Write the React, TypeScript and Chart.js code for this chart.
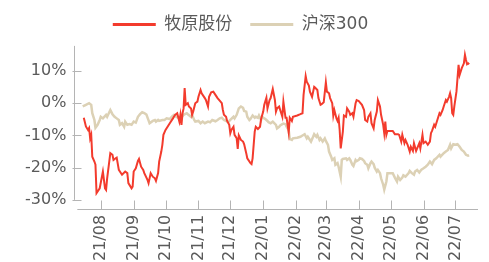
import React, { useEffect, useRef } from "react";
import { Chart, registerables } from "chart.js";

Chart.register(...registerables);

// x values: calendar days counted from 2021-08-01
const BASE_DATE = Date.UTC(2021, 7, 1);
const monthLabels = ["21/08", "21/09", "21/10", "21/11", "21/12", "22/01", "22/02", "22/03", "22/04", "22/05", "22/06", "22/07"];
const monthTickDays = monthLabels.map((_, i) => (Date.UTC(2021, 7 + i, 1) - BASE_DATE) / 86400000);
const yTickValues = [-30, -20, -10, 0, 10];

const seriesNames = ["牧原股份", "沪深300"];

const muyuanDays = [-16, -14, -12, -11, -10, -9, -8, -6, -5, -4, -1, 2, 4, 5, 6, 9, 11, 12, 14, 15, 17, 18, 20, 23, 25, 26, 29, 30, 31, 33, 35, 36, 38, 40, 41, 44, 45, 47, 49, 51, 52, 54, 55, 57, 58, 59, 61, 65, 68, 70, 72, 74, 75, 76, 77, 78, 79, 80, 82, 83, 85, 86, 87, 89, 91, 92, 94, 95, 98, 99, 101, 102, 104, 106, 108, 110, 112, 114, 115, 116, 118, 119, 121, 122, 123, 125, 126, 128, 129, 130, 132, 134, 135, 137, 138, 141, 142, 143, 145, 146, 148, 150, 151, 153, 154, 156, 157, 159, 160, 162, 164, 165, 166, 168, 169, 171, 172, 174, 175, 177, 178, 180, 181, 185, 188, 190, 191, 193, 194, 196, 197, 199, 201, 202, 204, 205, 207, 208, 210, 212, 213, 215, 216, 218, 219, 220, 222, 223, 224, 225, 226, 228, 229, 231, 232, 234, 235, 237, 238, 240, 241, 243, 244, 246, 248, 249, 251, 252, 254, 255, 257, 258, 260, 261, 263, 264, 266, 267, 268, 269, 270, 272, 275, 277, 280, 281, 283, 284, 286, 287, 289, 291, 292, 294, 295, 297, 298, 300, 301, 303, 304, 306, 308, 310, 311, 312, 314, 315, 317, 319, 320, 322, 323, 325, 326, 328, 329, 330, 331, 332, 333, 335, 336, 337, 338, 340, 342, 343, 344, 345, 346, 347];
const muyuanValues = [-4.5, -7.2, -8.3, -7.7, -10.9, -9.8, -16.6, -18.1, -19.1, -27.9, -26.4, -21.2, -26.4, -26.9, -23.3, -15.5, -16.0, -17.6, -17.1, -16.9, -20.7, -21.2, -22.2, -21.2, -21.7, -24.8, -26.4, -25.9, -21.2, -20.2, -17.9, -17.3, -19.7, -20.7, -21.7, -23.8, -24.8, -21.7, -22.8, -23.3, -24.1, -21.7, -18.1, -15.0, -12.9, -9.8, -8.3, -6.2, -4.7, -3.6, -3.1, -5.7, -3.6, -6.7, -3.1, -1.6, 4.7, -0.5, 0, -1.0, -1.6, -3.6, -2.6, 0, 0.5, 2.0, 4.1, 3.1, 1.6, 1.0, -1.0, 2.0, 3.4, 3.6, 2.6, 1.6, 0.8, 0, -2.1, -3.6, -4.2, -5.5, -6.7, -9.3, -8.3, -7.3, -9.8, -10.9, -14.2, -10.0, -11.4, -11.9, -12.7, -15.5, -17.1, -18.6, -18.9, -17.1, -8.8, -7.3, -8.0, -7.3, -4.9, -2.6, -0.5, 1.7, -1.6, 1.0, 1.6, 4.4, 1.0, -2.6, -1.6, -1.0, -2.1, -4.2, 0.5, -4.5, -4.5, -9.0, -4.5, -5.5, -4.2, -3.8, -3.4, -3.1, 2.6, 8.4, 6.7, 5.5, 3.6, 2.0, 5.1, 4.8, 4.1, 1.6, -0.5, -0.3, 0.3, 6.5, 3.6, 3.1, 1.6, 0, -3.8, -2.1, -4.7, -5.5, -4.5, -8.3, -14.0, -8.8, -3.8, -4.2, -1.6, -2.6, -3.6, -3.1, -4.2, 0, 1.0, 0.7, 0.3, -0.5, -2.1, -5.2, -5.7, -4.2, -3.1, -6.2, -7.8, -5.2, -2.6, 1.0, -1.0, -3.6, -6.7, -9.3, -5.7, -9.8, -8.6, -8.6, -8.6, -9.6, -9.6, -9.8, -11.9, -9.8, -12.4, -11.4, -12.9, -15.0, -13.5, -14.8, -12.4, -14.8, -14.0, -12.4, -14.0, -9.8, -12.4, -11.9, -12.9, -11.9, -9.3, -8.6, -6.7, -7.3, -5.2, -3.1, -3.6, -2.1, -1.0, 1.0, 0.5, 2.0, 3.1, 1.6, -3.1, -3.6, -1.0, 3.6, 7.8, 11.9, 8.8, 10.9, 12.4, 15.0, 13.4, 12.1, 12.4, 12.1];

const hs300Days = [-17, -14, -11, -9, -8, -6, -5, -3, -1, 0, 2, 5, 6, 9, 11, 13, 15, 17, 18, 20, 22, 23, 25, 27, 29, 31, 33, 35, 37, 39, 41, 43, 45, 46, 49, 51, 52, 54, 55, 58, 60, 62, 65, 67, 69, 71, 74, 76, 78, 81, 82, 85, 86, 88, 89, 92, 94, 96, 98, 101, 103, 105, 108, 110, 112, 114, 116, 118, 120, 122, 125, 126, 128, 130, 132, 134, 135, 137, 138, 140, 141, 143, 145, 146, 148, 149, 151, 152, 154, 155, 157, 158, 160, 162, 165, 166, 168, 169, 171, 172, 174, 175, 177, 178, 180, 181, 185, 188, 190, 192, 194, 195, 197, 198, 200, 201, 203, 204, 206, 207, 209, 211, 212, 214, 215, 217, 218, 220, 221, 223, 224, 226, 227, 228, 231, 232, 234, 235, 237, 238, 240, 241, 243, 244, 246, 248, 249, 251, 252, 254, 255, 257, 258, 260, 261, 263, 264, 266, 267, 269, 270, 272, 275, 277, 279, 280, 282, 284, 285, 287, 290, 291, 293, 295, 296, 298, 300, 302, 304, 306, 308, 310, 312, 314, 316, 319, 320, 323, 325, 327, 329, 330, 332, 334, 336, 338, 340, 342, 344, 346, 347];
const hs300Values = [-1.0, -0.5, 0, -0.5, -3.1, -5.2, -7.6, -6.7, -5.2, -4.2, -4.7, -3.6, -4.2, -2.1, -3.4, -4.2, -4.7, -5.2, -6.7, -6.2, -7.3, -5.7, -6.7, -6.5, -6.7, -5.7, -6.0, -4.2, -3.4, -2.8, -3.1, -3.5, -5.3, -6.2, -5.5, -5.2, -5.7, -5.2, -5.5, -5.2, -5.2, -4.7, -4.9, -4.2, -3.6, -4.2, -4.7, -4.5, -3.6, -3.1, -3.4, -4.2, -3.6, -5.2, -5.7, -5.5, -6.2, -5.7, -6.2, -5.7, -5.9, -5.2, -5.6, -5.2, -4.7, -4.5, -5.2, -5.5, -5.9, -5.2, -4.2, -4.7, -3.6, -1.6, -1.0, -1.4, -2.4, -2.6, -4.2, -5.2, -4.9, -3.8, -4.5, -4.2, -4.5, -3.8, -5.2, -4.2, -4.7, -4.9, -5.5, -5.9, -6.2, -5.7, -6.7, -7.8, -7.3, -6.9, -6.5, -6.3, -6.5, -7.3, -8.3, -11.1, -11.4, -10.9, -10.7, -10.4, -10.0, -9.6, -10.9, -10.4, -11.4, -11.9, -10.4, -9.6, -10.4, -9.8, -11.4, -10.9, -11.9, -10.9, -11.7, -12.9, -15.0, -16.6, -17.6, -17.1, -19.1, -18.6, -19.7, -22.8, -17.6, -17.3, -17.1, -17.6, -17.1, -17.6, -19.1, -19.5, -17.6, -18.0, -17.6, -17.1, -17.3, -17.9, -18.6, -19.1, -20.2, -18.6, -18.1, -18.9, -20.0, -21.2, -20.7, -21.7, -23.3, -25.3, -26.8, -24.3, -21.7, -21.7, -21.7, -23.1, -24.3, -22.8, -23.8, -23.1, -22.4, -22.8, -21.7, -21.0, -21.7, -22.2, -21.2, -20.7, -21.5, -20.6, -20.2, -19.7, -19.1, -18.1, -18.9, -17.6, -17.1, -16.0, -16.6, -15.5, -15.0, -14.5, -12.9, -14.0, -12.7, -12.9, -12.7, -13.5, -14.5, -15.0, -16.0, -16.3, -16.2];

const RED = "#f33b2d";
const BEIGE = "#dcd1b5";
const AXIS = "#b4b4b4";
const TEXT = "#5a5a5a";
const FONT = "'DejaVu Sans', 'Noto Sans CJK SC', sans-serif";

const axisPlugin = {
  id: "customAxes",
  afterLayout(chart: any) {
    const lg = chart.legend;
    if (lg) {
      lg.left -= 7;
      lg.right -= 7;
    }
  },
  afterDraw(chart: any) {
    const { ctx, chartArea, scales } = chart;
    const x = scales.x;
    const y = scales.y;
    ctx.save();
    ctx.strokeStyle = AXIS;
    ctx.lineWidth = 1;
    const left = Math.round(chartArea.left) + 0.5;
    const bottom = Math.round(chartArea.bottom) + 0.5;
    ctx.beginPath();
    ctx.moveTo(left, y.getPixelForValue(17.8));
    ctx.lineTo(left, y.getPixelForValue(-30));
    for (const v of yTickValues) {
      const py = Math.round(y.getPixelForValue(v)) + 0.5;
      ctx.moveTo(left - 2, py);
      ctx.lineTo(left + 7, py);
    }
    ctx.moveTo(chartArea.left + 3, bottom);
    ctx.lineTo(chartArea.right, bottom);
    for (const d of monthTickDays) {
      const px = Math.round(x.getPixelForValue(d)) + 0.5;
      ctx.moveTo(px, bottom - 9);
      ctx.lineTo(px, bottom);
    }
    ctx.stroke();
    ctx.restore();
  },
};

export default function App() {
  const ref = useRef<HTMLCanvasElement>(null);
  useEffect(() => {
    document.body.style.overflow = "hidden";
    const chart = new Chart(ref.current!, {
      type: "line",
      data: {
        datasets: [
          {
            label: seriesNames[0],
            data: muyuanDays.map((d, i) => ({ x: d, y: muyuanValues[i] })),
            borderColor: RED,
            backgroundColor: RED,
            borderWidth: 2,
            pointRadius: 0,
            tension: 0,
          },
          {
            label: seriesNames[1],
            data: hs300Days.map((d, i) => ({ x: d, y: hs300Values[i] })),
            borderColor: BEIGE,
            backgroundColor: BEIGE,
            borderWidth: 2.5,
            pointRadius: 0,
            tension: 0,
          },
        ],
      },
      options: {
        responsive: false,
        animation: false,
        layout: { padding: { left: 9, right: 3, top: -10, bottom: -5 } },
        plugins: {
          tooltip: { enabled: false },
          legend: {
            display: true,
            position: "top",
            labels: {
              font: { size: 17, family: FONT },
              color: TEXT,
              boxWidth: 43,
              boxHeight: 3,
              padding: 18,
              generateLabels: (c: any) =>
                c.data.datasets.map((ds: any, i: number) => ({
                  text: ds.label,
                  fillStyle: ds.borderColor,
                  strokeStyle: ds.borderColor,
                  lineWidth: 0,
                  hidden: false,
                  datasetIndex: i,
                  fontColor: TEXT,
                })),
            },
          },
        },
        scales: {
          x: {
            type: "linear",
            min: -24.9,
            max: 355.3,
            grid: { display: false, drawTicks: false },
            border: { display: false },
            afterBuildTicks: (s: any) => {
              s.ticks = monthTickDays.map((v) => ({ value: v }));
            },
            ticks: {
              autoSkip: false,
              maxRotation: 90,
              minRotation: 90,
              padding: 6,
              color: TEXT,
              font: { size: 16, family: FONT },
              callback: (v: any) => {
                const i = monthTickDays.indexOf(Number(v));
                return i >= 0 ? monthLabels[i] : "";
              },
            },
          },
          y: {
            type: "linear",
            min: -32.8,
            max: 18.7,
            grid: { display: false, drawTicks: false },
            border: { display: false },
            afterBuildTicks: (s: any) => {
              s.ticks = yTickValues.map((v) => ({ value: v }));
            },
            ticks: {
              padding: 8,
              color: TEXT,
              font: { size: 16, family: FONT },
              callback: (v: any) => `${v}%`,
            },
          },
        },
      },
      plugins: [axisPlugin],
    });
    return () => chart.destroy();
  }, []);
  return (
    <div style={{ width: 473, height: 254 }}>
      <canvas ref={ref} width={473} height={254} style={{ display: "block" }} />
    </div>
  );
}
